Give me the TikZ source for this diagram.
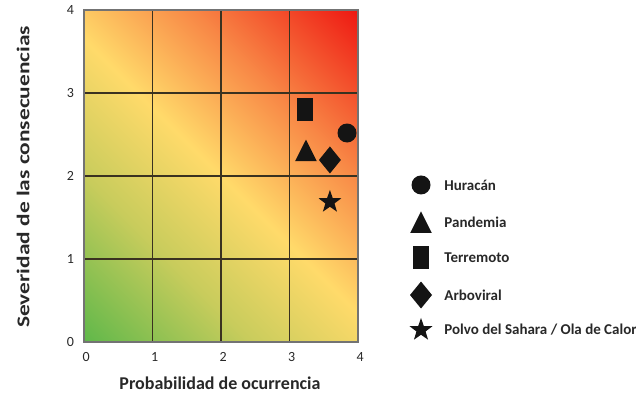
\documentclass[tikz,border=0pt]{standalone}
\usepackage{fontspec}
\setmainfont{Carlito}
\usetikzlibrary{shapes.geometric}
\definecolor{rgreen}{RGB}{96,184,74}
\definecolor{ryg}{RGB}{200,204,92}
\definecolor{ryellow}{RGB}{255,218,106}
\definecolor{rorange}{RGB}{248,136,70}
\definecolor{rred}{RGB}{238,24,18}
\definecolor{gridc}{RGB}{58,50,32}
\definecolor{txtc}{RGB}{40,40,40}
\pgfdeclareverticalshading{riskgrad}{100bp}{color(0bp)=(rgreen); color(14.6bp)=(rgreen); color(34bp)=(ryg); color(50bp)=(ryellow); color(66bp)=(rorange); color(85.4bp)=(rred); color(100bp)=(rred)}

\begin{document}
\begin{tikzpicture}[x=68.5pt,y=83pt]
\tikzset{sym/.style = {fill=black!92, draw=none, inner sep=0pt, outer sep=0pt},
  huracan/.style = {sym, circle, minimum size=19pt},
  pandemia/.style = {sym, regular polygon, regular polygon sides=3, minimum size=25pt, yscale=1.15},
  terremoto/.style = {sym, rectangle, minimum width=16pt, minimum height=23pt},
  arbo/.style = {sym, diamond, minimum width=22pt, minimum height=27pt},
  polvo/.style = {sym, star, star points=5, star point ratio=2.5, minimum size=24pt},
  tick/.style = {text=txtc, font=\fontsize{14}{14}\selectfont},
  legtext/.style = {anchor=west, text=txtc, font=\fontsize{15}{15}\selectfont\bfseries}}

\useasboundingbox (-1.2263,-0.747) rectangle (8.0584,4.1205);
\shade[shading=riskgrad, shading angle=-45] (0,0) rectangle (4,4);
\foreach \i in {1,2,3} {\draw[gridc, line width=1.4pt] (\i,0) -- (\i,4); \draw[gridc, line width=1.4pt] (0,\i) -- (4,\i);}
\draw[black!55, line width=1.4pt] (0,0) rectangle (4,4);

\foreach \i in {0,...,4} {\node[tick] (xt\i) at (\i+0.03,-0.18) {\i}; \node[tick] (yt\i) at (-0.2,\i) {\i};}
\node[text=txtc, font=\fontsize{18}{18}\selectfont\bfseries] (xlab) at (1.985,-0.494) {Probabilidad de ocurrencia};
\node[text=txtc, font=\fontsize{18}{18}\selectfont\bfseries, rotate=90, xscale=1.3] (ylab) at (-0.89,1.99) {Severidad de las consecuencias};

\node[terremoto] (T) at (3.226,2.807) {}; \node[huracan] (H) at (3.84,2.518) {};
\node[pandemia] (P) at (3.24,2.265) {}; \node[arbo] (A) at (3.59,2.193) {};
\node[polvo] (S) at (3.59,1.687) {};

\node[huracan] (L1) at (4.92,1.892) {}; \node[legtext] (N1) at (5.21,1.892) {Huracán};
\node[pandemia] (L2) at (4.92,1.40) {}; \node[legtext] (N2) at (5.21,1.446) {Pandemia};
\node[terremoto] (L3) at (4.92,1.012) {}; \node[legtext] (N3) at (5.21,1.012) {Terremoto};
\node[arbo] (L4) at (4.92,0.566) {}; \node[legtext] (N4) at (5.21,0.566) {Arboviral};
\node[polvo] (L5) at (4.92,0.145) {}; \node[legtext] (N5) at (5.21,0.145) {Polvo del Sahara / Ola de Calor};
\end{tikzpicture}
\end{document}
